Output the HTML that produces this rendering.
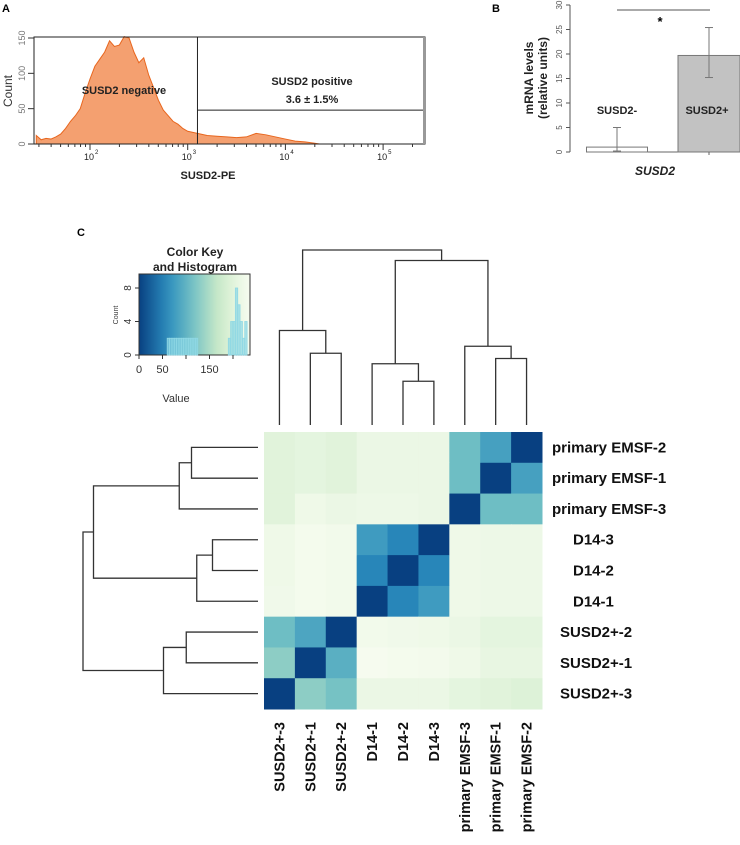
<!DOCTYPE html>
<html><head><meta charset="utf-8">
<style>
body{margin:0;background:#fff;}
svg{display:block;font-family:"Liberation Sans",Arial,sans-serif;}
</style></head>
<body>
<svg id="fig" width="740" height="845" viewBox="0 0 740 845">
</svg>
<script>
// ===== Panel A data: flow cytometry histogram (log10 bins, counts) =====
const histLogs = [1.45,1.5,1.55,1.6,1.65,1.7,1.75,1.8,1.85,1.9,1.95,2.0,2.05,2.1,2.15,2.2,2.25,2.3,2.35,2.4,2.45,2.5,2.55,2.6,2.65,2.7,2.75,2.8,2.85,2.9,2.95,3.0,3.1,3.2,3.3,3.4,3.5,3.6,3.7,3.8,3.9,4.0,4.1,4.2,4.3,4.35];
const histCounts = [12,6,8,7,10,14,22,32,40,50,72,92,110,120,130,146,138,140,152,150,130,115,122,98,80,62,48,40,32,28,22,18,15,12,11,10,9,10,15,13,10,7,4,3,1,0];
const aTicks = [2,3,4,5];
const aYTicks = [0,50,100,150];
const gateLog = 3.1, gateCount = 48;
// ===== Panel B data =====
const bCats = ["SUSD2-","SUSD2+"];
const bValues = [1.0,19.7];
const bErrLow = [0.2,15.2];
const bErrHigh = [5.0,25.4];
const bTicks = [0,5,10,15,20,25,30];
// ===== Panel C data =====
const rowLabels = ["primary EMSF-2","primary EMSF-1","primary EMSF-3","D14-3","D14-2","D14-1","SUSD2+-2","SUSD2+-1","SUSD2+-3"];
const colLabels = ["SUSD2+-3","SUSD2+-1","SUSD2+-2","D14-1","D14-2","D14-3","primary EMSF-3","primary EMSF-1","primary EMSF-2"];
const matrix = [
 [200,205,200,215,215,215,110,80,0],
 [200,205,200,215,215,215,110,0,80],
 [200,220,215,218,218,215,0,110,110],
 [220,228,225,75,55,0,220,218,218],
 [220,228,225,55,0,55,220,218,218],
 [222,228,225,0,55,75,220,218,218],
 [110,85,0,225,222,220,215,205,205],
 [130,0,95,230,228,226,220,210,210],
 [0,130,115,215,215,215,205,200,195]
];
const colMerges = [[-2,-3,0.41],[-1,1,0.54],[-5,-6,0.25],[-4,3,0.35],[-8,-9,0.38],[-7,5,0.45],[4,6,0.94],[2,7,1.0]];
const rowMerges = [[-1,-2,0.38],[-3,1,0.45],[-4,-5,0.26],[-6,3,0.35],[2,4,0.94],[-7,-8,0.41],[-9,6,0.54],[5,7,1.0]];
const keyTicks = [0,50,150];
const keyYTicks = [0,4,8];
const keyBins = [60,65,70,75,80,85,90,95,100,105,110,115,120,125,130,190,195,200,205,210,215,220,225,230];
const keyCounts = [2,2,2,2,2,2,2,2,2,2,2,2,2,0,0,2,4,4,8,6,4,2,4,0];

const NS="http://www.w3.org/2000/svg";
const svg=document.getElementById('fig');
function el(tag,attrs,parent,text){const e=document.createElementNS(NS,tag);for(const k in attrs)e.setAttribute(k,attrs[k]);if(text!==undefined)e.textContent=text;(parent||svg).appendChild(e);return e;}
function grp(name){const g=document.createElementNS(NS,'g');svg.appendChild(g);return g;}

// ---------- Panel A ----------
const gA=grp('panel-a');
let t=el('text',{x:2,y:12,'font-size':11,'font-weight':'bold'},gA,'A');

const aX=v=>90+(v-2)*97.7, aY=c=>144-c*106/150;
let pts=[[aX(histLogs[0]),aY(0)]];
histLogs.forEach((l,i)=>pts.push([aX(l),aY(histCounts[i])]));
pts.push([aX(histLogs[histLogs.length-1]),aY(0)]);
let hp=el('polygon',{points:pts.map(p=>p.join(',')).join(' '),fill:'#f4a070',stroke:'#e8661e','stroke-width':1},gA);

let fr=el('rect',{x:34,y:37,width:391,height:107,fill:'none',stroke:'#222','stroke-width':1},gA);

el('rect',{x:423,y:37,width:3,height:107,fill:'#999'},gA);
let gv=el('line',{x1:aX(gateLog),y1:37,x2:aX(gateLog),y2:144,stroke:'#222'},gA);

let gh=el('line',{x1:aX(gateLog),y1:aY(gateCount),x2:423,y2:aY(gateCount),stroke:'#222'},gA);

for(let d=1;d<=5;d++){for(let m=1;m<=9;m++){const v=d+Math.log10(m);const x=aX(v);if(x<34||x>423)continue;el('line',{x1:x,y1:144,x2:x,y2:m==1?150:147,stroke:'#333'},gA);}}
aTicks.forEach(p=>{const x=aX(p);let tt=el('text',{x:x-6,y:160,'font-size':9,fill:'#222'},gA,'10');el('text',{x:x+5,y:154,'font-size':6,fill:'#222'},gA,String(p));});
aYTicks.forEach(c=>{const y=aY(c);el('line',{x1:28,y1:y,x2:34,y2:y,stroke:'#333'},gA);let tt=el('text',{x:25,y:y,'font-size':9,fill:'#777','text-anchor':'middle',transform:`rotate(-90 25 ${y})`},gA,String(c));});
t=el('text',{x:12,y:91,'font-size':12,fill:'#333','text-anchor':'middle',transform:'rotate(-90 12 91)'},gA,'Count');
t=el('text',{x:208,y:179,'font-size':11,'font-weight':'bold','text-anchor':'middle',fill:'#222'},gA,'SUSD2-PE');
t=el('text',{x:124,y:94,'font-size':11,'font-weight':'bold','text-anchor':'middle',fill:'#222'},gA,'SUSD2 negative');
t=el('text',{x:312,y:85,'font-size':11,'font-weight':'bold','text-anchor':'middle',fill:'#222'},gA,'SUSD2 positive');
t=el('text',{x:312,y:103,'font-size':11,'font-weight':'bold','text-anchor':'middle',fill:'#222'},gA,'3.6 ± 1.5%');

// ---------- Panel B ----------
const gB=grp('panel-b');
t=el('text',{x:492,y:12,'font-size':11,'font-weight':'bold'},gB,'B');
const bY=v=>152-v*147/30;
const bCenters=[617,709], bW=[61,62];
el('line',{x1:570,y1:bY(0),x2:570,y2:bY(30),stroke:'#555'},gB);
bTicks.forEach(v=>{el('line',{x1:566,y1:bY(v),x2:570,y2:bY(v),stroke:'#555'},gB);let tt=el('text',{x:562,y:bY(v),'font-size':8,fill:'#555','text-anchor':'middle',transform:`rotate(-90 562 ${bY(v)})`},gB,String(v));});
el('line',{x1:586,y1:bY(0),x2:740,y2:bY(0),stroke:'#666'},gB);
bValues.forEach((v,i)=>{const x=bCenters[i]-bW[i]/2;let r=el('rect',{x:x,y:bY(v),width:bW[i],height:bY(0)-bY(v),fill:i?'#c2c2c2':'#fff',stroke:'#777'},gB);
 let eb=el('line',{x1:bCenters[i],y1:bY(bErrLow[i]),x2:bCenters[i],y2:bY(bErrHigh[i]),stroke:'#777'},gB);
 el('line',{x1:bCenters[i]-4,y1:bY(bErrHigh[i]),x2:bCenters[i]+4,y2:bY(bErrHigh[i]),stroke:'#777'},gB);
 el('line',{x1:bCenters[i]-4,y1:bY(bErrLow[i]),x2:bCenters[i]+4,y2:bY(bErrLow[i]),stroke:'#777'},gB);});
el('line',{x1:709,y1:152,x2:709,y2:155,stroke:'#666'},gB);
t=el('text',{x:617,y:114,'font-size':11,'font-weight':'bold','text-anchor':'middle',fill:'#222'},gB,bCats[0]);
t=el('text',{x:707,y:114,'font-size':11,'font-weight':'bold','text-anchor':'middle',fill:'#222'},gB,bCats[1]);
t=el('line',{x1:617,y1:10,x2:710,y2:10,stroke:'#555'},gB);
t=el('text',{x:660,y:26,'font-size':13,'font-weight':'bold','text-anchor':'middle'},gB,'*');
t=el('text',{x:655,y:175,'font-size':12,'font-weight':'bold','font-style':'italic','text-anchor':'middle',fill:'#222'},gB,'SUSD2');
t=el('text',{x:533,y:78,'font-size':12,'font-weight':'bold','text-anchor':'middle',fill:'#222',transform:'rotate(-90 533 78)'},gB,'mRNA levels');
t=el('text',{x:547,y:78,'font-size':12,'font-weight':'bold','text-anchor':'middle',fill:'#222',transform:'rotate(-90 547 78)'},gB,'(relative units)');

// ---------- Panel C ----------
const gC=grp('panel-c');
t=el('text',{x:77,y:236,'font-size':11,'font-weight':'bold'},gC,'C');
const stops=[[0,[8,64,129]],[60,[43,140,190]],[110,[110,190,196]],[170,[204,235,200]],[232,[247,252,240]]];
function cmap(v){for(let i=0;i<stops.length-1;i++){const[a,ca]=stops[i],[b,cb]=stops[i+1];if(v<=b){const f=Math.max(0,(v-a)/(b-a));return 'rgb('+ca.map((c,k)=>Math.round(c+(cb[k]-c)*f)).join(',')+')';}}const c=stops[stops.length-1][1];return 'rgb('+c.join(',')+')';}
const HX=264,HY=432,CW=278/9,CH=277/9;
const colX=j=>HX+j*CW, rowY=i=>HY+i*CH;
matrix.forEach((row,i)=>row.forEach((v,j)=>{let r=el('rect',{x:colX(j),y:rowY(i),width:CW+0.5,height:CH+0.5,fill:cmap(v)},gC);}));
colLabels.forEach((l,j)=>{const x=colX(j)+CW/2+5;let tt=el('text',{x:x,y:722,'font-size':14.5,'font-weight':'bold','text-anchor':'end',fill:'#111',transform:`rotate(-90 ${x} 722)`},gC,l);});
const rowLX=[552,552,552,573,573,573,560,560,560];
rowLabels.forEach((l,i)=>{let tt=el('text',{x:rowLX[i],y:rowY(i)+CH/2+5,'font-size':15,'font-weight':'bold',fill:'#111'},gC,l);});
function dendro(merges,leafPos,hToCoord,horizontal,name){const pos={},hh={};
 const P=k=>k<0?leafPos(-k-1):pos[k];const H=k=>k<0?0:hh[k];
 merges.forEach((m,idx)=>{const n=idx+1;const[a,b,h]=m;const pa=P(a),pb=P(b);pos[n]=(pa+pb)/2;hh[n]=h;
  const ha=hToCoord(H(a)),hb=hToCoord(H(b)),hc=hToCoord(h);
  let d=horizontal?`M${ha},${pa}H${hc}V${pb}H${hb}`:`M${pa},${ha}V${hc}H${pb}V${hb}`;
  let p=el('path',{d:d,fill:'none',stroke:'#333','stroke-width':1.3},gC);});}
dendro(colMerges,j=>colX(j)+CW/2,h=>425-h*175,false,'column-dendrogram-branch');
dendro(rowMerges,i=>rowY(i)+CH/2,h=>258-h*175,true,'row-dendrogram-branch');
const KX=139,KY=274,KW=111,KH=81;
const kx=v=>KX+v*0.47, ky=c=>KY+KH-c*(67/8);
const defs=el('defs',{},gC);const lg=el('linearGradient',{id:'kg',x1:0,x2:1,y1:0,y2:0},defs);
for(let s=0;s<=10;s++){const v=s*23.6;el('stop',{offset:(s/10),'stop-color':cmap(v)},lg);}
let kr=el('rect',{x:KX,y:KY,width:KW,height:KH,fill:'url(#kg)',stroke:'#333'},gC);
keyBins.forEach((b,i)=>{if(!keyCounts[i])return;let kb=el('rect',{x:kx(b),y:ky(keyCounts[i]),width:kx(b+5)-kx(b),height:ky(0)-ky(keyCounts[i]),fill:'rgba(140,215,228,0.7)',stroke:'#8fd8e4','stroke-width':0.8},gC);});
keyYTicks.forEach(c=>{el('line',{x1:KX-4,y1:ky(c),x2:KX,y2:ky(c),stroke:'#333'},gC);let tt=el('text',{x:KX-8,y:ky(c),'font-size':10,'text-anchor':'middle',fill:'#333',transform:`rotate(-90 ${KX-8} ${ky(c)})`},gC,String(c));});
[0,50,100,150,200].forEach(v=>el('line',{x1:kx(v),y1:KY+KH,x2:kx(v),y2:KY+KH+4,stroke:'#333'},gC));
keyTicks.forEach(v=>{let tt=el('text',{x:kx(v),y:KY+KH+18,'font-size':11,'text-anchor':'middle',fill:'#333'},gC,String(v));});
t=el('text',{x:118,y:315,'font-size':7,'text-anchor':'middle',fill:'#333',transform:'rotate(-90 118 315)'},gC,'Count');
t=el('text',{x:176,y:402,'font-size':11,'text-anchor':'middle',fill:'#333'},gC,'Value');
t=el('text',{x:195,y:256,'font-size':12,'font-weight':'bold','text-anchor':'middle',fill:'#222'},gC,'Color Key');
t=el('text',{x:195,y:271,'font-size':12,'font-weight':'bold','text-anchor':'middle',fill:'#222'},gC,'and Histogram');
</script>
</body></html>
